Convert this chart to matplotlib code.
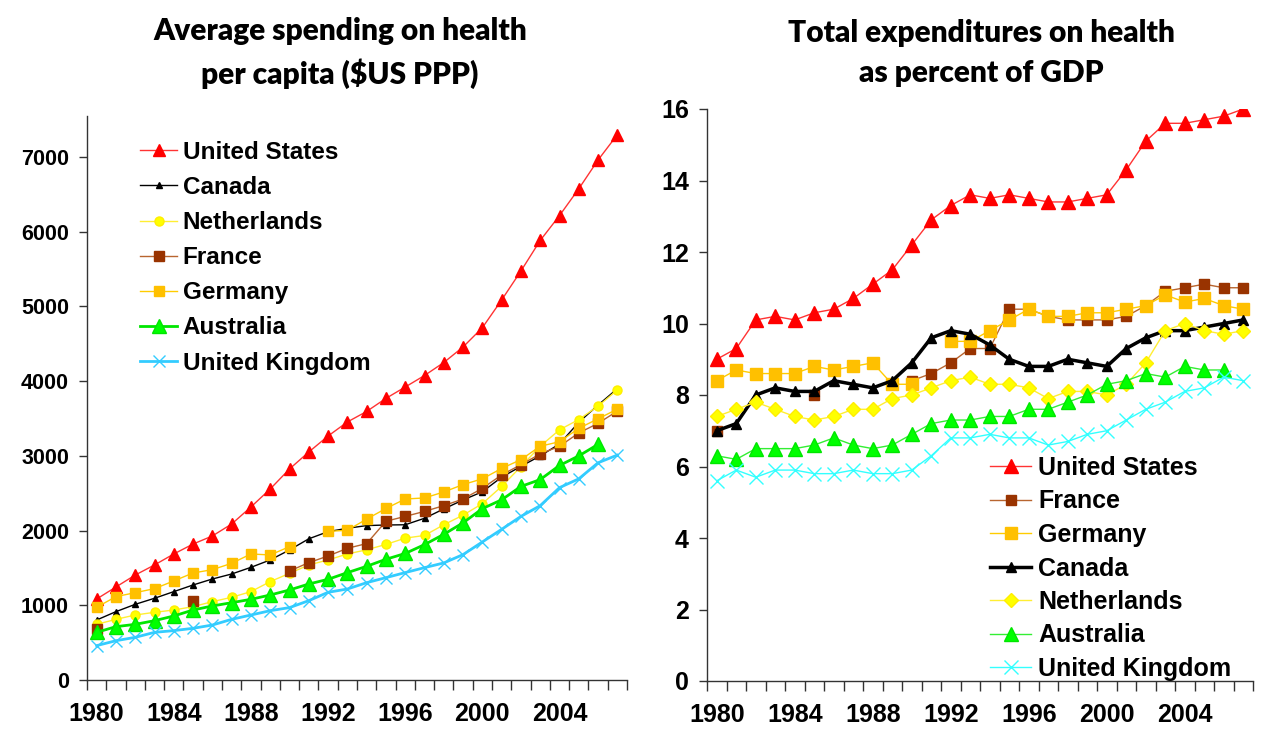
import numpy as np
import matplotlib
matplotlib.use('Agg')
import matplotlib.pyplot as plt

nan = np.nan
years = list(range(1980, 2008))
year_labels = ['1980', '1984', '1988', '1992', '1996', '2000', '2004']

# average spending on health per capita ($US PPP)
us_pc = [1084, 1245, 1405, 1540, 1687, 1820, 1928, 2088, 2316, 2557, 2825, 3052, 3266, 3454,
         3595, 3770, 3922, 4076, 4250, 4458, 4716, 5087, 5475, 5884, 6217, 6576, 6961, 7300]
can_pc = [803, 915, 1013, 1094, 1183, 1272, 1352, 1419, 1508, 1607, 1741, 1890, 1986, 2031,
          2067, 2075, 2078, 2165, 2290, 2410, 2520, 2715, 2860, 3000, 3160, 3450, 3680, 3900]
nl_pc = [745, 812, 870, 906, 937, 982, 1049, 1107, 1183, 1317, 1428, 1540, 1607, 1687,
         1743, 1815, 1899, 1935, 2078, 2207, 2361, 2591, 2857, 3129, 3349, 3487, 3666, 3883]
fr_pc = [678, nan, nan, nan, nan, 1058, nan, nan, nan, nan, 1459, 1571, 1660, 1763,
         1826, 2125, 2190, 2257, 2334, 2423, 2566, 2745, 2883, 3026, 3129, 3307, 3436, 3600]
de_pc = [973, 1116, 1169, 1223, 1326, 1433, 1477, 1562, 1687, 1674, 1785, nan, 1990, 2004,
         2154, 2296, 2423, 2437, 2517, 2616, 2693, 2832, 2950, 3129, 3190, 3369, 3497, 3626]
au_pc = [638, 714, 745, 794, 857, 937, 991, 1035, 1080, 1138, 1205, 1285, 1348, 1437,
         1522, 1616, 1694, 1812, 1950, 2104, 2294, 2412, 2591, 2683, 2872, 3000, 3154, nan]
uk_pc = [460, 526, 571, 638, 661, 692, 736, 812, 870, 928, 969, 1062, 1174, 1218,
         1303, 1370, 1438, 1504, 1567, 1679, 1848, 2017, 2190, 2334, 2575, 2693, 2908, 3011]

# total expenditures on health as percent of GDP
us_gdp = [9.0, 9.3, 10.1, 10.2, 10.1, 10.3, 10.4, 10.7, 11.1, 11.5, 12.2, 12.9, 13.3, 13.6,
          13.5, 13.6, 13.5, 13.4, 13.4, 13.5, 13.6, 14.3, 15.1, 15.6, 15.6, 15.7, 15.8, 16.0]
fr_gdp = [7.0, nan, nan, nan, nan, 8.0, nan, nan, nan, nan, 8.4, 8.6, 8.9, 9.3,
          9.3, 10.4, 10.4, 10.2, 10.1, 10.1, 10.1, 10.2, 10.5, 10.9, 11.0, 11.1, 11.0, 11.0]
de_gdp = [8.4, 8.7, 8.6, 8.6, 8.6, 8.8, 8.7, 8.8, 8.9, 8.3, 8.3, nan, 9.5, 9.5,
          9.8, 10.1, 10.4, 10.2, 10.2, 10.3, 10.3, 10.4, 10.5, 10.8, 10.6, 10.7, 10.5, 10.4]
ca_gdp = [7.0, 7.2, 8.0, 8.2, 8.1, 8.1, 8.4, 8.3, 8.2, 8.4, 8.9, 9.6, 9.8, 9.7,
          9.4, 9.0, 8.8, 8.8, 9.0, 8.9, 8.8, 9.3, 9.6, 9.8, 9.8, 9.9, 10.0, 10.1]
nl_gdp = [7.4, 7.6, 7.8, 7.6, 7.4, 7.3, 7.4, 7.6, 7.6, 7.9, 8.0, 8.2, 8.4, 8.5,
          8.3, 8.3, 8.2, 7.9, 8.1, 8.1, 8.0, 8.3, 8.9, 9.8, 10.0, 9.8, 9.7, 9.8]
au_gdp = [6.3, 6.2, 6.5, 6.5, 6.5, 6.6, 6.8, 6.6, 6.5, 6.6, 6.9, 7.2, 7.3, 7.3,
          7.4, 7.4, 7.6, 7.6, 7.8, 8.0, 8.3, 8.4, 8.6, 8.5, 8.8, 8.7, 8.7, nan]
uk_gdp = [5.6, 5.9, 5.7, 5.9, 5.9, 5.8, 5.8, 5.9, 5.8, 5.8, 5.9, 6.3, 6.8, 6.8,
          6.9, 6.8, 6.8, 6.6, 6.7, 6.9, 7.0, 7.3, 7.6, 7.8, 8.1, 8.2, 8.5, 8.4]

plt.rcParams['font.family'] = ['Liberation Sans', 'DejaVu Sans']
plt.rcParams['font.weight'] = 'bold'

W, H = 1269, 735
fig = plt.figure(figsize=(W / 100, H / 100), dpi=100)


def px_axes(x0, x1, y_top, y_bot):
    return fig.add_axes([x0 / W, 1 - y_bot / H, (x1 - x0) / W, (y_bot - y_top) / H])


def style_axes(ax, ysize):
    for s in ['top', 'right']:
        ax.spines[s].set_visible(False)
    for s in ['left', 'bottom']:
        ax.spines[s].set_color('#333333')
        ax.spines[s].set_linewidth(1.0)
    ax.set_xlim(1979.5, 2007.5)
    ax.set_xticks(np.arange(1979.5, 2008, 1))
    ax.set_xticklabels([])
    ax.set_xticks([int(y) for y in year_labels], minor=True)
    ax.set_xticklabels(year_labels, minor=True)
    ax.tick_params(axis='x', which='major', direction='out', length=7, width=1, color='#333333')
    ax.tick_params(axis='x', which='minor', length=0, pad=16, labelsize=18)
    ax.tick_params(axis='y', direction='out', length=6, width=1, color='#333333',
                   labelsize=ysize, pad=7)


# left panel
ax1 = px_axes(87, 627, 116, 680)
style_axes(ax1, 15.5)
ax1.plot(years, us_pc, color='#FF3333', lw=1, marker='^', ms=8, mfc='#FF0000', mec='#FF0000', label='United States')
ax1.plot(years, can_pc, color='black', lw=1, marker='^', ms=5, label='Canada')
ax1.plot(years, nl_pc, color='#FFEE33', lw=1, marker='o', ms=6.5, mfc='#FFFF00', mec='#FFEE00', label='Netherlands')
ax1.plot(years, fr_pc, color='#B8652F', lw=1, marker='s', ms=7, mfc='#993300', mec='#993300', label='France')
ax1.plot(years, de_pc, color='#FFCC00', lw=1, marker='s', ms=7, mfc='#FFC000', mec='#FFC000', label='Germany')
ax1.plot(years, au_pc, color='#00E600', lw=2, marker='^', ms=10, mfc='#00FF00', mec='#00E600', label='Australia')
ax1.plot(years, uk_pc, color='#33CCFF', lw=2, marker='x', ms=9, mew=1, label='United Kingdom')
ax1.set_ylim(0, 7550)
ax1.set_yticks(range(0, 8000, 1000))
ax1.legend(loc='upper left', bbox_to_anchor=(130 / W, 1 - 131 / H), bbox_transform=fig.transFigure,
           frameon=False, prop={'size': 17.5, 'weight': 'bold'}, handlelength=1.55,
           handletextpad=0.22, labelspacing=0.5, borderaxespad=0)

# right panel
ax2 = px_axes(707, 1253, 109, 681)
style_axes(ax2, 18)
ax2.plot(years, us_gdp, color='#FF3333', lw=1, marker='^', ms=9.5, mfc='#FF0000', mec='#FF0000', label='United States')
ax2.plot(years, fr_gdp, color='#B8652F', lw=1, marker='s', ms=7.5, mfc='#993300', mec='#993300', label='France')
ax2.plot(years, de_gdp, color='#FFCC00', lw=1, marker='s', ms=8, mfc='#FFC000', mec='#FFC000', label='Germany')
ax2.plot(years, ca_gdp, color='black', lw=2.5, marker='^', ms=7.5, label='Canada')
ax2.plot(years, nl_gdp, color='#FFEE33', lw=1, marker='D', ms=7, mfc='#FFFF00', mec='#FFEE00', label='Netherlands')
ax2.plot(years, au_gdp, color='#33EE33', lw=1, marker='^', ms=9.5, mfc='#00FF00', mec='#00E600', label='Australia')
ax2.plot(years, uk_gdp, color='#33FFFF', lw=1, marker='x', ms=10, mew=1, mec='#33FFFF', label='United Kingdom')
ax2.set_ylim(0, 16)
ax2.set_yticks(range(0, 17, 2))
ax2.legend(loc='upper left', bbox_to_anchor=(980 / W, 1 - 446 / H), bbox_transform=fig.transFigure,
           frameon=False, prop={'size': 18, 'weight': 'bold'}, handlelength=1.65,
           handletextpad=0.28, labelspacing=0.38, borderaxespad=0)

# titles
title_kw = dict(ha='center', va='center', fontsize=21.5, fontweight='heavy',
                family=['Lato', 'DejaVu Sans'], linespacing=1.5)
fig.text(340 / W, 1 - 53 / H, 'Average spending on health\nper capita ($US PPP)', **title_kw)
fig.text(981 / W, 1 - 53 / H, 'Total expenditures on health\nas percent of GDP', **title_kw)

fig.savefig('out.png', dpi=100)
